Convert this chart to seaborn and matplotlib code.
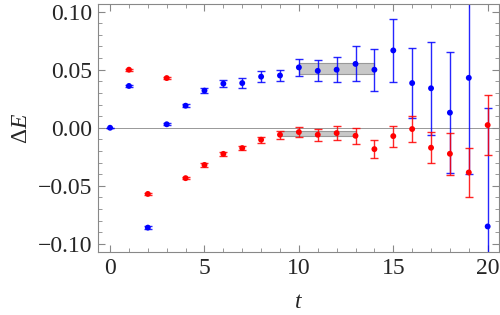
import numpy as np
import matplotlib
matplotlib.use("Agg")
import matplotlib.pyplot as plt
import seaborn as sns
import pandas as pd
from matplotlib.ticker import MultipleLocator

# -----------------------------------------------
# DADOS
# -----------------------------------------------
t_azul = [0, 1, 2, 3, 4, 5, 6, 7, 8, 9, 10, 11, 12, 13, 14, 15, 16, 17, 18, 19, 20]
dE_azul = [0.000, 0.036, -0.086, 0.003, 0.019, 0.032, 0.038, 0.0385, 0.044, 0.045,
           0.052, 0.049, 0.050, 0.055, 0.050, 0.0666, 0.0385, 0.034, 0.013, 0.043, -0.085]
err_azul = [0.0, 0.001, 0.001, 0.001, 0.0015, 0.002, 0.003, 0.004, 0.005, 0.005,
            0.007, 0.009, 0.011, 0.015, 0.018, 0.027, 0.030, 0.040, 0.052, 0.083, 0.102]

t_verm = [1, 2, 3, 4, 5, 6, 7, 8, 9, 10, 11, 12, 13, 14, 15, 16, 17, 18, 19, 20]
dE_verm = [0.050, -0.057, 0.0428, -0.0434, -0.032, -0.0225, -0.0175, -0.0103, -0.006,
           -0.0037, -0.006, -0.0046, -0.0069, -0.0184, -0.0072, -0.0011, -0.0172,
           -0.0224, -0.0385, 0.0023]
err_verm = [0.001, 0.001, 0.001, 0.001, 0.0015, 0.002, 0.002, 0.0025, 0.0035,
            0.0045, 0.0053, 0.006, 0.007, 0.0078, 0.009, 0.011, 0.0134, 0.018, 0.021, 0.026]

# faixas de ajuste (t inicial, t final, centro, meia largura)
faixa_azul = (10, 14, 0.0513, 0.0047)
faixa_verm = (9, 13, -0.0050, 0.0025)

df_azul = pd.DataFrame({"t": t_azul, "dE": dE_azul, "err": err_azul})
df_verm = pd.DataFrame({"t": t_verm, "dE": dE_verm, "err": err_verm})

# -----------------------------------------------
# ESTILO
# -----------------------------------------------
sns.set_style("ticks")
plt.rcParams["font.family"] = ["Liberation Serif", "DejaVu Serif"]
plt.rcParams["mathtext.fontset"] = "custom"
plt.rcParams["mathtext.it"] = "Liberation Serif:italic"
plt.rcParams["mathtext.rm"] = "Liberation Serif"

cinza = "#888888"

fig = plt.figure(figsize=(5, 3.15), dpi=100)
ax = fig.add_axes([0.196, 0.2, 0.802, 0.787])

# faixas cinzas
for t0, t1, c, h in [faixa_azul, faixa_verm]:
    ax.fill_between([t0, t1], c - h, c + h, color="#c8c8c8", edgecolor="#999999",
                    linewidth=0.8, zorder=1)

ax.axhline(0, color=cinza, linewidth=0.6, zorder=0)

for df, cor in [(df_azul, "blue"), (df_verm, "red")]:
    ax.errorbar(df["t"], df["dE"], yerr=df["err"], fmt="none", ecolor=cor,
                elinewidth=1.0, capsize=3, capthick=1.0, alpha=0.85, zorder=2)
    sns.scatterplot(data=df, x="t", y="dE", color=cor, s=18, edgecolor="none",
                    ax=ax, zorder=3)

ax.set_xlim(-0.64, 20.6)
ax.set_ylim(-0.107, 0.1065)

ax.xaxis.set_major_locator(MultipleLocator(5))
ax.xaxis.set_minor_locator(MultipleLocator(1))
ax.yaxis.set_major_locator(MultipleLocator(0.05))
ax.yaxis.set_minor_locator(MultipleLocator(0.01))
ax.yaxis.set_major_formatter(matplotlib.ticker.FuncFormatter(
    lambda v, p: ("\u2212" if v < -1e-9 else "") + f"{abs(v):.2f}"))

ax.tick_params(which="both", direction="in", top=True, right=True, color=cinza,
               labelsize=17, pad=4)
ax.tick_params(which="major", length=5, width=0.8)
ax.tick_params(which="minor", length=2.8, width=0.6)
for s in ax.spines.values():
    s.set_color(cinza)
    s.set_linewidth(0.8)

ax.set_xlabel(r"$t$", fontsize=17, labelpad=10)
ax.set_ylabel(r"$\Delta E$", fontsize=17, labelpad=4)

plt.savefig("out.png", dpi=100)
